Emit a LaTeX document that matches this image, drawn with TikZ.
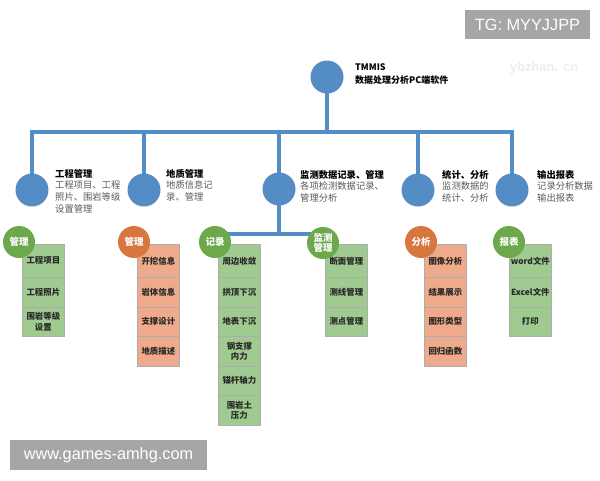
\documentclass[tikz,border=0pt]{standalone}
\usepackage{fontspec}
\setmainfont{Liberation Sans}
\newfontfamily\cjk{Noto Sans CJK SC}
\usetikzlibrary{backgrounds}
\definecolor{lineblue}{RGB}{84,140,198}
\definecolor{cgreen}{RGB}{110,168,76}
\definecolor{corange}{RGB}{216,118,64}
\definecolor{fgreen}{RGB}{160,203,144}
\definecolor{forange}{RGB}{238,170,138}
\definecolor{wmgray}{RGB}{166,166,166}
\definecolor{bodytxt}{RGB}{89,89,89}
\definecolor{celltxt}{RGB}{40,40,40}

\tikzset{
  conn/.style={draw=lineblue, line width=3.2pt, line join=miter},
  bigdot/.style={circle, fill=lineblue, minimum size=33pt, inner sep=0pt},
  headtxt/.style={anchor=north west, align=left, inner sep=0pt,
    font=\cjk\fontsize{9.3}{11.7}\selectfont},
  catg/.style={circle, fill=cgreen, minimum size=32pt, inner sep=0pt, text=white,
    align=center, font=\cjk\bfseries\fontsize{9.5}{10}\selectfont},
  cato/.style={catg, fill=corange},
  cellbase/.style={draw=white!68!black, line width=0.7pt, minimum width=42pt,
    inner sep=0pt, align=center, text=celltxt,
    font=\cjk\bfseries\fontsize{8.4}{10.5}\selectfont},
  cellg/.style={cellbase, fill=fgreen},
  cello/.style={cellbase, fill=forange},
  wmbox/.style={fill=wmgray, text=white, inner sep=0pt, font=\fontsize{16.3}{18}\selectfont}
}

\newcommand\mkcolumn[4]{%
  \foreach \t [count=\i] in {#4} {%
    \pgfmathsetmacro\yt{\i==1 ? 244 : 277+(\i-2)*29.5}%
    \pgfmathsetmacro\hh{\i==1 ? 33 : 29.5}%
    \node[#3, minimum height=\hh pt, anchor=north west] (#1-\i) at (#2,\yt) {\t};
  }%
}

\begin{document}
\begin{tikzpicture}[x=1pt,y=-1pt]
\useasboundingbox (0,0) rectangle (600,480);

% watermarks
\node[wmbox, minimum width=125pt, minimum height=29pt] (tg) at (527.5,24.5) {TG: MYYJJPP};
\node[wmbox, minimum width=197pt, minimum height=30pt] (site) at (108.5,455) {www.games-amhg.com};
\node[text=black!7, inner sep=0pt, font=\bfseries\fontsize{13}{15}\selectfont] (yb) at (544,68) {ybzhan. cn};

% root
\node[bigdot] (root) at (327,77) {};
\node[anchor=north west, align=left, inner sep=0pt, font=\cjk\bfseries\fontsize{9}{13.5}\selectfont] (roottxt) at (355,63) {TMMIS\\数据处理分析PC端软件};

% level 2
\coordinate (bar) at (0,132);
\node[bigdot] (c1) at (32,190) {};
\node[bigdot] (c2) at (144,190) {};
\node[bigdot] (c3) at (279,189) {};
\node[bigdot] (c4) at (418,190) {};
\node[bigdot] (c5) at (512,190) {};

\node[headtxt] (t1) at (55,169) {\textbf{工程管理}\\{\color{bodytxt}工程项目、工程}\\{\color{bodytxt}照片、围岩等级}\\{\color{bodytxt}设置管理}};
\node[headtxt] (t2) at (166,169) {\textbf{地质管理}\\{\color{bodytxt}地质信息记}\\{\color{bodytxt}录、管理}};
\node[headtxt] (t3) at (300,170) {\textbf{监测数据记录、管理}\\{\color{bodytxt}各项检测数据记录、}\\{\color{bodytxt}管理分析}};
\node[headtxt] (t4) at (442,170) {\textbf{统计、分析}\\{\color{bodytxt}监测数据的}\\{\color{bodytxt}统计、分析}};
\node[headtxt] (t5) at (537,170) {\textbf{输出报表}\\{\color{bodytxt}记录分析数据}\\{\color{bodytxt}输出报表}};

% level 3 columns
\mkcolumn{k1}{22}{cellg}{工程项目,工程照片,{围岩等级\\设置}}
\mkcolumn{k2}{137}{cello}{开挖信息,岩体信息,支撑设计,地质描述}
\mkcolumn{k3}{218}{cellg}{周边收敛,拱顶下沉,地表下沉,{钢支撑\\内力},锚杆轴力,{围岩土\\压力}}
\mkcolumn{k4}{325}{cellg}{断面管理,测线管理,测点管理}
\mkcolumn{k5}{424}{cello}{图像分析,结果展示,图形类型,回归函数}
\mkcolumn{k6}{509}{cellg}{word文件,Excel文件,打印}

% category circles
\node[catg] (g1) at (19,242) {管理};
\node[cato] (g2) at (134,242) {管理};
\node[catg] (g3) at (215,242) {记录};
\node[catg] (g4) at (323,243) {监测\\管理};
\node[cato] (g5) at (421,242) {分析};
\node[catg] (g6) at (509,242) {报表};

% connectors
\begin{scope}[on background layer]
  \draw[conn] (root.center) -- (root.center |- bar);
  \draw[conn] (c1.center) -- (c1.center |- bar) -- (c5.center |- bar) -- (c5.center);
  \draw[conn] (c2.center) -- (c2.center |- bar);
  \draw[conn] (c3.center |- bar) -- (c3.center);
  \draw[conn] (c4.center) -- (c4.center |- bar);
  \coordinate (sub) at (0,234);
  \draw[conn] (c3.center) -- (c3.center |- sub);
  \draw[conn] (g3.center |- sub) -- (g4.center |- sub);
\end{scope}
\end{tikzpicture}
\end{document}
